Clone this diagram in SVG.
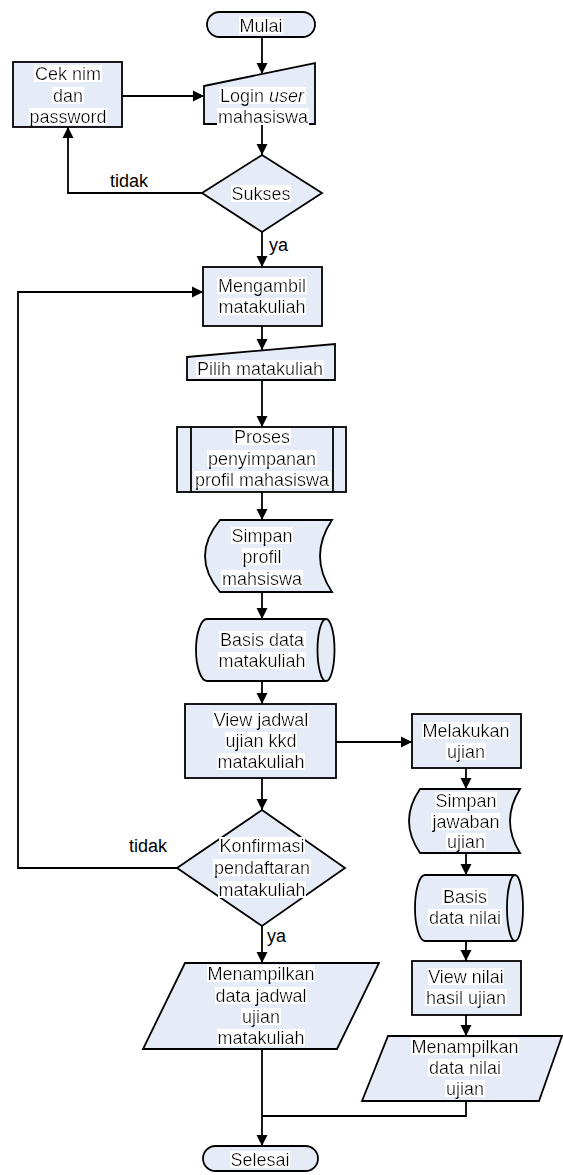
<svg xmlns="http://www.w3.org/2000/svg" width="563" height="1175" viewBox="0 0 563 1175">
<style>
.s{fill:#e6ecf7;stroke:#000;stroke-width:1.8;stroke-linejoin:miter}
.i{fill:none;stroke:#000;stroke-width:1.8}
.t{font-family:"Liberation Sans",Arial,sans-serif;font-size:18px;text-anchor:middle;fill:#000;filter:url(#hl)}
.l{font-family:"Liberation Sans",Arial,sans-serif;font-size:18px;fill:#000}
.c{fill:none;stroke:#000;stroke-width:1.8}
.a{marker-end:url(#ah)}
</style>
<defs>
<marker id="ah" markerUnits="userSpaceOnUse" markerWidth="12" markerHeight="12" refX="11" refY="6" orient="auto">
<path d="M0,0.5 L11,6 L0,11.5 z" fill="#000"/>
</marker>
<filter id="hl" x="0" y="0" width="1" height="1" primitiveUnits="objectBoundingBox">
<feFlood flood-color="#ffffff" x="0" y="0.08" width="1" height="0.8" result="f"/>
<feComposite in="SourceGraphic" in2="f" operator="over"/>
</filter>
</defs>

<g id="connectors">
<path class="c a" d="M262,37 V74"/>
<path class="c a" d="M122,96 H204"/>
<path class="c a" d="M262,124 V155"/>
<path class="c a" d="M202,193 H68 V127"/>
<path class="c a" d="M262,232 V267"/>
<path class="c a" d="M177,868 H18 V292 H203"/>
<path class="c a" d="M262,326 V350"/>
<path class="c a" d="M262,380 V427"/>
<path class="c a" d="M262,492 V520"/>
<path class="c a" d="M262,592 V619"/>
<path class="c a" d="M262,681 V704"/>
<path class="c a" d="M336,742 H412"/>
<path class="c a" d="M262,778 V810"/>
<path class="c a" d="M262,926 V963"/>
<path class="c a" d="M262,1049 V1146"/>
<path class="c a" d="M466,768 V789"/>
<path class="c a" d="M466,853 V875"/>
<path class="c a" d="M466,941 V961"/>
<path class="c a" d="M466,1015 V1036"/>
<path class="c" d="M466,1101 V1116 H262"/>
<text class="l" x="110" y="187">tidak</text>
<text class="l" x="269" y="251">ya</text>
<text class="l" x="129" y="852">tidak</text>
<text class="l" x="267" y="942">ya</text>
</g>

<g id="mulai">
<rect class="s" x="207" y="12" width="108" height="25" rx="12.5"/>
<text class="t" x="261" y="31.5">Mulai</text>
</g>

<g id="login">
<path class="s" d="M204,86 L315,63 L315,124 L204,124 Z"/>
<text class="t" x="262" y="102">Login <tspan font-style="italic">user</tspan></text>
<text class="t" x="263" y="123">mahasiswa</text>
</g>

<g id="ceknim">
<rect class="s" x="13" y="62" width="109" height="65"/>
<text class="t" x="68" y="80">Cek nim</text>
<text class="t" x="68" y="102">dan</text>
<text class="t" x="68" y="123">password</text>
</g>

<g id="sukses">
<path class="s" d="M262,155 L322,193 L262,232 L202,193 Z"/>
<text class="t" x="261" y="200">Sukses</text>
</g>

<g id="mengambil">
<rect class="s" x="203" y="267" width="119" height="59"/>
<text class="t" x="262" y="292">Mengambil</text>
<text class="t" x="262" y="313">matakuliah</text>
</g>

<g id="pilih">
<path class="s" d="M187,357 L335,344 L335,380 L187,380 Z"/>
<text class="t" x="260" y="375">Pilih matakuliah</text>
</g>

<g id="proses">
<rect class="s" x="177" y="427" width="169" height="65"/>
<path class="i" d="M191,427 V492 M333,427 V492"/>
<text class="t" x="262" y="443">Proses</text>
<text class="t" x="262" y="465">penyimpanan</text>
<text class="t" x="262" y="486">profil mahasiswa</text>
</g>

<g id="simpanprofil">
<path class="s" d="M220,520 L332,520 Q308,556 332,592 L220,592 Q190,556 220,520 Z"/>
<text class="t" x="262" y="542">Simpan</text>
<text class="t" x="262" y="563">profil</text>
<text class="t" x="262" y="585">mahsiswa</text>
</g>

<g id="basismk">
<path class="s" d="M207,619 L326,619 A8.5,31 0 0 1 326,681 L207,681 A11,31 0 0 1 207,619 Z"/>
<path class="i" d="M326,619 A8.5,31 0 0 0 326,681"/>
<text class="t" x="262" y="646">Basis data</text>
<text class="t" x="262" y="667">matakuliah</text>
</g>

<g id="viewjadwal">
<rect class="s" x="185" y="704" width="151" height="74"/>
<text class="t" x="261" y="726">View jadwal</text>
<text class="t" x="261" y="747">ujian kkd</text>
<text class="t" x="261" y="768">matakuliah</text>
</g>

<g id="konfirmasi">
<path class="s" d="M262,810 L345,868 L262,926 L177,868 Z"/>
<text class="t" x="262" y="852">Konfirmasi</text>
<text class="t" x="262" y="874">pendaftaran</text>
<text class="t" x="262" y="896">matakuliah</text>
</g>

<g id="tampiljadwal">
<path class="s" d="M185,963 L379,963 L337,1049 L143,1049 Z"/>
<text class="t" x="261" y="980">Menampilkan</text>
<text class="t" x="261" y="1002">data jadwal</text>
<text class="t" x="261" y="1023">ujian</text>
<text class="t" x="261" y="1044">matakuliah</text>
</g>

<g id="selesai">
<rect class="s" x="203" y="1146" width="115" height="25" rx="12.5"/>
<text class="t" x="260" y="1166">Selesai</text>
</g>

<g id="melakukan">
<rect class="s" x="412" y="714" width="109" height="54"/>
<text class="t" x="466" y="737">Melakukan</text>
<text class="t" x="466" y="758">ujian</text>
</g>

<g id="simpanjawaban">
<path class="s" d="M420,789 L520,789 Q500,821 520,853 L420,853 Q398,821 420,789 Z"/>
<text class="t" x="466" y="807">Simpan</text>
<text class="t" x="466" y="828">jawaban</text>
<text class="t" x="466" y="848">ujian</text>
</g>

<g id="basisnilai">
<path class="s" d="M425,875 L515,875 A8,33 0 0 1 515,941 L425,941 A10,33 0 0 1 425,875 Z"/>
<path class="i" d="M515,875 A8,33 0 0 0 515,941"/>
<text class="t" x="465" y="903">Basis</text>
<text class="t" x="465" y="924">data nilai</text>
</g>

<g id="viewnilai">
<rect class="s" x="412" y="961" width="109" height="54"/>
<text class="t" x="466" y="983">View nilai</text>
<text class="t" x="466" y="1004">hasil ujian</text>
</g>

<g id="tampilnilai">
<path class="s" d="M388,1036 L562,1036 L539,1101 L362,1101 Z"/>
<text class="t" x="465" y="1053">Menampilkan</text>
<text class="t" x="465" y="1074">data nilai</text>
<text class="t" x="465" y="1095">ujian</text>
</g>
</svg>
